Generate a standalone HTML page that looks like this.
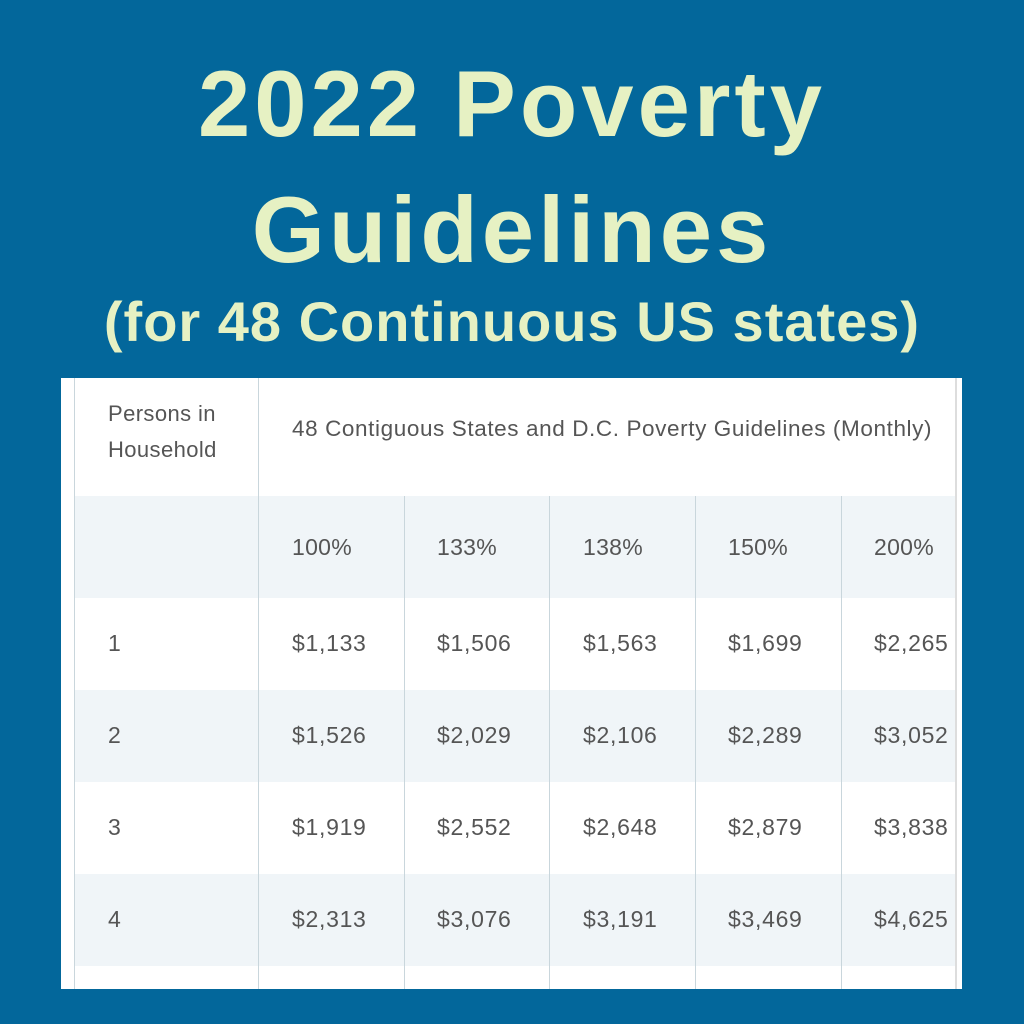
<!DOCTYPE html>
<html><head><style>
body{margin:0;width:1024px;height:1024px;background:#03679b;position:relative;overflow:hidden;font-family:"Liberation Sans","DejaVu Sans",sans-serif}
.t{position:absolute;left:0;width:1024px;text-align:center;color:#e6f1c3;font-weight:bold;white-space:nowrap}
.panel{position:absolute;left:61px;top:378px;width:901px;height:611px;background:#fff}
.r{position:absolute;left:13px;width:881px;background:#f0f5f8}
.v{position:absolute;width:1px;background:#c9d6dc}
.c{position:absolute;color:#555;font-size:23px;letter-spacing:0.7px;white-space:nowrap;line-height:1}
</style></head><body>
<div class="t" style="top:54px;font-size:94px;line-height:100px;letter-spacing:4px">2022 Poverty</div>
<div class="t" style="top:180px;font-size:94px;line-height:100px;letter-spacing:4px">Guidelines</div>
<div class="t" style="top:290px;font-size:56px;line-height:64px;letter-spacing:1px">(for 48 Continuous US states)</div>
<div class="panel">
<div class="r" style="top:118px;height:102px"></div>
<div class="r" style="top:312px;height:92px"></div>
<div class="r" style="top:496px;height:92px"></div>
<div class="v" style="left:13px;top:0;height:611px"></div>
<div class="v" style="left:197px;top:0;height:611px"></div>
<div class="v" style="left:343px;top:118px;height:493px"></div>
<div class="v" style="left:488px;top:118px;height:493px"></div>
<div class="v" style="left:634px;top:118px;height:493px"></div>
<div class="v" style="left:780px;top:118px;height:493px"></div>
<div class="v" style="left:894px;top:0;height:611px;background:#ddd;width:2px"></div>
<div class="c" style="left:47px;top:18px;line-height:36px;font-size:22px;letter-spacing:0.4px">Persons in<br>Household</div>
<div class="c" style="left:231px;top:40px;font-size:22.5px;letter-spacing:0.6px">48 Contiguous States and D.C. Poverty Guidelines (Monthly)</div>
</div>
<div id="g"></div>
<script>
var cols=[292,437,583,728,874],ys=[548,644,736,828,920];
var d=[["100%","133%","138%","150%","200%"],["$1,133","$1,506","$1,563","$1,699","$2,265"],["$1,526","$2,029","$2,106","$2,289","$3,052"],["$1,919","$2,552","$2,648","$2,879","$3,838"],["$2,313","$3,076","$3,191","$3,469","$4,625"]];
var h="";
for(var i=0;i<5;i++){if(i>0)h+='<div class="c" style="left:108px;top:'+(ys[i]-12)+'px">'+i+'</div>';
for(var j=0;j<5;j++)h+='<div class="c" style="left:'+cols[j]+'px;top:'+(ys[i]-12)+'px;'+(i==0?'letter-spacing:0.3px':'')+'">'+d[i][j]+'</div>';}
document.getElementById('g').innerHTML=h;
</script>
</body></html>
